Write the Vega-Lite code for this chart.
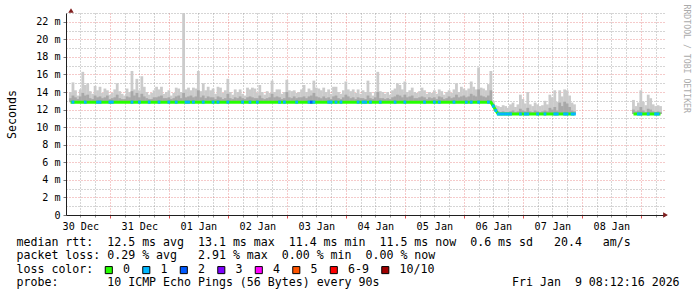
{
"$schema": "https://vega.github.io/schema/vega-lite/v6.json",
"width": 600, "height": 202,
"autosize": "none",
"padding": {"left": 66, "top": 13, "right": 31, "bottom": 82},
"background": "white",
"config": {"view": {"stroke": null}, "font": "DejaVu Sans Mono"},
"data": {"values": [
{"t":"2025-12-30T08:00","m":12.85,"a":13.3,"b":14.0},
{"t":"2025-12-30T09:00","m":12.85,"a":13.6,"b":15.1,"l":"1"},
{"t":"2025-12-30T10:00","m":12.85,"a":13.4,"b":14.2},
{"t":"2025-12-30T11:00","m":12.85,"a":13.2,"b":13.6},
{"t":"2025-12-30T12:00","m":12.85,"a":13.5,"b":14.3},
{"t":"2025-12-30T13:00","m":12.85,"a":13.9,"b":16.3},
{"t":"2025-12-30T14:00","m":12.85,"a":13.6,"b":14.8,"l":"1"},
{"t":"2025-12-30T15:00","m":12.85,"a":13.7,"b":15.0},
{"t":"2025-12-30T16:00","m":12.85,"a":13.3,"b":14.1},
{"t":"2025-12-30T17:00","m":12.85,"a":13.2,"b":13.8},
{"t":"2025-12-30T18:00","m":12.85,"a":13.6,"b":14.7},
{"t":"2025-12-30T19:00","m":12.85,"a":13.4,"b":14.2,"l":"1"},
{"t":"2025-12-30T20:00","m":12.85,"a":13.5,"b":14.6,"l":"1"},
{"t":"2025-12-30T21:00","m":12.85,"a":13.3,"b":13.9},
{"t":"2025-12-30T22:00","m":12.85,"a":13.4,"b":14.4},
{"t":"2025-12-30T23:00","m":12.85,"a":13.6,"b":14.2},
{"t":"2025-12-31T00:00","m":12.85,"a":13.2,"b":13.7,"l":"1"},
{"t":"2025-12-31T01:00","m":12.85,"a":13.3,"b":13.9,"l":"1"},
{"t":"2025-12-31T02:00","m":12.85,"a":13.4,"b":14.3},
{"t":"2025-12-31T03:00","m":12.85,"a":13.7,"b":15.0},
{"t":"2025-12-31T04:00","m":12.85,"a":13.3,"b":14.1},
{"t":"2025-12-31T05:00","m":12.85,"a":13.2,"b":13.8},
{"t":"2025-12-31T06:00","m":12.85,"a":13.2,"b":13.6},
{"t":"2025-12-31T07:00","m":12.85,"a":13.5,"b":14.4},
{"t":"2025-12-31T08:00","m":12.85,"a":13.4,"b":14.0},
{"t":"2025-12-31T09:00","m":12.85,"a":14.1,"b":16.4,"l":"1"},
{"t":"2025-12-31T10:00","m":12.85,"a":13.6,"b":14.3},
{"t":"2025-12-31T11:00","m":12.85,"a":13.9,"b":15.5},
{"t":"2025-12-31T12:00","m":12.85,"a":13.4,"b":14.2,"l":"1"},
{"t":"2025-12-31T13:00","m":12.85,"a":13.8,"b":15.8},
{"t":"2025-12-31T14:00","m":12.85,"a":13.5,"b":14.6},
{"t":"2025-12-31T15:00","m":12.85,"a":13.3,"b":14.0},
{"t":"2025-12-31T16:00","m":12.85,"a":13.2,"b":13.7,"l":"1"},
{"t":"2025-12-31T17:00","m":12.85,"a":13.2,"b":13.9},
{"t":"2025-12-31T18:00","m":12.85,"a":13.4,"b":14.2},
{"t":"2025-12-31T19:00","m":12.85,"a":13.4,"b":14.6},
{"t":"2025-12-31T20:00","m":12.85,"a":13.5,"b":14.3,"l":"1"},
{"t":"2025-12-31T21:00","m":12.85,"a":13.6,"b":14.6},
{"t":"2025-12-31T22:00","m":12.85,"a":13.3,"b":13.8},
{"t":"2025-12-31T23:00","m":12.85,"a":13.3,"b":14.0},
{"t":"2026-01-01T00:00","m":12.85,"a":13.4,"b":14.2,"l":"1"},
{"t":"2026-01-01T01:00","m":12.85,"a":13.2,"b":13.6},
{"t":"2026-01-01T02:00","m":12.85,"a":13.3,"b":13.9},
{"t":"2026-01-01T03:00","m":12.85,"a":13.5,"b":14.5,"l":"1"},
{"t":"2026-01-01T04:00","m":12.85,"a":13.6,"b":14.4},
{"t":"2026-01-01T05:00","m":12.85,"a":13.3,"b":14.0},
{"t":"2026-01-01T06:00","m":12.85,"a":13.9,"b":23.0},
{"t":"2026-01-01T07:00","m":12.85,"a":13.4,"b":14.3,"l":"1"},
{"t":"2026-01-01T08:00","m":12.85,"a":13.5,"b":14.5,"l":"1"},
{"t":"2026-01-01T09:00","m":12.85,"a":13.6,"b":14.2},
{"t":"2026-01-01T10:00","m":12.85,"a":13.4,"b":14.5,"l":"1"},
{"t":"2026-01-01T11:00","m":12.85,"a":13.5,"b":14.4},
{"t":"2026-01-01T12:00","m":12.85,"a":14.2,"b":16.4},
{"t":"2026-01-01T13:00","m":12.85,"a":13.4,"b":14.1},
{"t":"2026-01-01T14:00","m":12.85,"a":13.6,"b":15.0,"l":"1"},
{"t":"2026-01-01T15:00","m":12.85,"a":13.3,"b":14.2},
{"t":"2026-01-01T16:00","m":12.85,"a":13.5,"b":14.6},
{"t":"2026-01-01T17:00","m":12.85,"a":13.4,"b":14.2},
{"t":"2026-01-01T18:00","m":12.85,"a":13.4,"b":14.4,"l":"1"},
{"t":"2026-01-01T19:00","m":12.85,"a":13.2,"b":13.8},
{"t":"2026-01-01T20:00","m":12.85,"a":13.5,"b":14.6,"l":"1"},
{"t":"2026-01-01T21:00","m":12.85,"a":13.4,"b":14.5},
{"t":"2026-01-01T22:00","m":12.85,"a":13.2,"b":13.9},
{"t":"2026-01-01T23:00","m":12.85,"a":13.3,"b":14.2},
{"t":"2026-01-02T00:00","m":12.85,"a":13.8,"b":15.5,"l":"1"},
{"t":"2026-01-02T01:00","m":12.85,"a":13.3,"b":14.0},
{"t":"2026-01-02T02:00","m":12.85,"a":13.2,"b":13.7},
{"t":"2026-01-02T03:00","m":12.85,"a":13.4,"b":14.3},
{"t":"2026-01-02T04:00","m":12.85,"a":13.3,"b":14.0},
{"t":"2026-01-02T05:00","m":12.85,"a":13.5,"b":14.3},
{"t":"2026-01-02T06:00","m":12.85,"a":13.3,"b":13.8,"l":"1"},
{"t":"2026-01-02T07:00","m":12.85,"a":13.2,"b":13.6},
{"t":"2026-01-02T08:00","m":12.85,"a":13.4,"b":14.5},
{"t":"2026-01-02T09:00","m":12.85,"a":13.5,"b":14.3,"l":"1"},
{"t":"2026-01-02T10:00","m":12.85,"a":13.4,"b":14.5},
{"t":"2026-01-02T11:00","m":12.85,"a":13.3,"b":14.4},
{"t":"2026-01-02T12:00","m":12.85,"a":13.3,"b":13.9,"l":"1"},
{"t":"2026-01-02T13:00","m":12.85,"a":13.6,"b":14.8},
{"t":"2026-01-02T14:00","m":12.85,"a":13.3,"b":14.0},
{"t":"2026-01-02T15:00","m":12.85,"a":13.2,"b":13.7},
{"t":"2026-01-02T16:00","m":12.85,"a":13.3,"b":14.1},
{"t":"2026-01-02T17:00","m":12.85,"a":13.4,"b":13.9},
{"t":"2026-01-02T18:00","m":12.85,"a":13.8,"b":15.3},
{"t":"2026-01-02T19:00","m":12.85,"a":13.4,"b":14.0},
{"t":"2026-01-02T20:00","m":12.85,"a":13.5,"b":14.3},
{"t":"2026-01-02T21:00","m":12.85,"a":13.4,"b":14.3,"l":"1"},
{"t":"2026-01-02T22:00","m":12.85,"a":13.2,"b":13.8},
{"t":"2026-01-02T23:00","m":12.85,"a":13.3,"b":14.0,"l":"1"},
{"t":"2026-01-03T00:00","m":12.85,"a":14.0,"b":15.4},
{"t":"2026-01-03T01:00","m":12.85,"a":13.4,"b":14.2},
{"t":"2026-01-03T02:00","m":12.85,"a":13.3,"b":14.1},
{"t":"2026-01-03T03:00","m":12.85,"a":13.5,"b":14.2},
{"t":"2026-01-03T04:00","m":12.85,"a":13.3,"b":13.9,"l":"1"},
{"t":"2026-01-03T05:00","m":12.85,"a":13.4,"b":14.0},
{"t":"2026-01-03T06:00","m":12.85,"a":13.4,"b":14.3},
{"t":"2026-01-03T07:00","m":12.85,"a":13.5,"b":14.8},
{"t":"2026-01-03T08:00","m":12.85,"a":13.3,"b":14.0},
{"t":"2026-01-03T09:00","m":12.85,"a":13.5,"b":14.4,"l":"1"},
{"t":"2026-01-03T10:00","m":12.85,"a":13.6,"b":14.2,"l":"2"},
{"t":"2026-01-03T11:00","m":12.85,"a":13.9,"b":15.3,"l":"1"},
{"t":"2026-01-03T12:00","m":12.85,"a":13.5,"b":14.5},
{"t":"2026-01-03T13:00","m":12.85,"a":13.4,"b":14.4},
{"t":"2026-01-03T14:00","m":12.85,"a":13.3,"b":14.2},
{"t":"2026-01-03T15:00","m":12.85,"a":13.5,"b":14.5},
{"t":"2026-01-03T16:00","m":12.85,"a":13.3,"b":14.0},
{"t":"2026-01-03T17:00","m":12.85,"a":13.4,"b":14.3,"l":"1"},
{"t":"2026-01-03T18:00","m":12.85,"a":13.2,"b":13.8,"l":"1"},
{"t":"2026-01-03T19:00","m":12.85,"a":13.5,"b":14.6},
{"t":"2026-01-03T20:00","m":12.85,"a":13.6,"b":14.6,"l":"1"},
{"t":"2026-01-03T21:00","m":12.85,"a":13.3,"b":14.0},
{"t":"2026-01-03T22:00","m":12.85,"a":13.2,"b":13.8,"l":"1"},
{"t":"2026-01-03T23:00","m":12.85,"a":13.4,"b":14.2},
{"t":"2026-01-04T00:00","m":12.85,"a":13.7,"b":15.2},
{"t":"2026-01-04T01:00","m":12.85,"a":13.5,"b":14.3},
{"t":"2026-01-04T02:00","m":12.85,"a":13.3,"b":14.1},
{"t":"2026-01-04T03:00","m":12.85,"a":13.4,"b":14.3},
{"t":"2026-01-04T04:00","m":12.85,"a":13.2,"b":13.9},
{"t":"2026-01-04T05:00","m":12.85,"a":13.4,"b":14.3,"l":"1"},
{"t":"2026-01-04T06:00","m":12.85,"a":13.3,"b":13.8},
{"t":"2026-01-04T07:00","m":12.85,"a":13.3,"b":14.2,"l":"1"},
{"t":"2026-01-04T08:00","m":12.85,"a":13.2,"b":14.0,"l":"1"},
{"t":"2026-01-04T09:00","m":12.85,"a":13.6,"b":15.3},
{"t":"2026-01-04T10:00","m":12.85,"a":13.3,"b":14.0,"l":"1"},
{"t":"2026-01-04T11:00","m":12.85,"a":13.2,"b":13.6},
{"t":"2026-01-04T12:00","m":12.85,"a":13.4,"b":14.0},
{"t":"2026-01-04T13:00","m":12.85,"a":14.0,"b":16.3},
{"t":"2026-01-04T14:00","m":12.85,"a":13.3,"b":14.1,"l":"1"},
{"t":"2026-01-04T15:00","m":12.85,"a":13.3,"b":14.0},
{"t":"2026-01-04T16:00","m":12.85,"a":13.2,"b":13.8},
{"t":"2026-01-04T17:00","m":12.85,"a":13.3,"b":14.0},
{"t":"2026-01-04T18:00","m":12.85,"a":13.2,"b":13.7},
{"t":"2026-01-04T19:00","m":12.85,"a":13.4,"b":14.2},
{"t":"2026-01-04T20:00","m":12.85,"a":13.5,"b":14.4,"l":"1"},
{"t":"2026-01-04T21:00","m":12.85,"a":13.7,"b":15.0},
{"t":"2026-01-04T22:00","m":12.85,"a":13.6,"b":14.8},
{"t":"2026-01-04T23:00","m":12.85,"a":13.4,"b":14.3},
{"t":"2026-01-05T00:00","m":12.85,"a":13.7,"b":15.2,"l":"1"},
{"t":"2026-01-05T01:00","m":12.85,"a":13.4,"b":14.0},
{"t":"2026-01-05T02:00","m":12.85,"a":13.5,"b":14.2},
{"t":"2026-01-05T03:00","m":12.85,"a":13.6,"b":14.5},
{"t":"2026-01-05T04:00","m":12.85,"a":13.3,"b":14.0},
{"t":"2026-01-05T05:00","m":12.85,"a":13.3,"b":13.9},
{"t":"2026-01-05T06:00","m":12.85,"a":13.4,"b":14.1},
{"t":"2026-01-05T07:00","m":12.85,"a":13.5,"b":14.5},
{"t":"2026-01-05T08:00","m":12.85,"a":13.4,"b":14.2,"l":"1"},
{"t":"2026-01-05T09:00","m":12.85,"a":13.2,"b":13.8},
{"t":"2026-01-05T10:00","m":12.85,"a":13.4,"b":14.0},
{"t":"2026-01-05T11:00","m":12.85,"a":13.3,"b":13.9},
{"t":"2026-01-05T12:00","m":12.85,"a":13.4,"b":14.2,"l":"1"},
{"t":"2026-01-05T13:00","m":12.85,"a":13.2,"b":13.8},
{"t":"2026-01-05T14:00","m":12.85,"a":13.5,"b":14.3,"l":"1"},
{"t":"2026-01-05T15:00","m":12.85,"a":13.4,"b":14.1},
{"t":"2026-01-05T16:00","m":12.85,"a":13.2,"b":13.7},
{"t":"2026-01-05T17:00","m":12.85,"a":13.3,"b":14.0},
{"t":"2026-01-05T18:00","m":12.85,"a":13.5,"b":14.2},
{"t":"2026-01-05T19:00","m":12.85,"a":13.3,"b":13.9},
{"t":"2026-01-05T20:00","m":12.85,"a":13.4,"b":14.3,"l":"1"},
{"t":"2026-01-05T21:00","m":12.85,"a":13.7,"b":15.0},
{"t":"2026-01-05T22:00","m":12.85,"a":13.4,"b":14.0},
{"t":"2026-01-05T23:00","m":12.85,"a":13.5,"b":14.6},
{"t":"2026-01-06T00:00","m":12.85,"a":13.6,"b":14.4},
{"t":"2026-01-06T01:00","m":12.85,"a":13.4,"b":14.2,"l":"1"},
{"t":"2026-01-06T02:00","m":12.85,"a":13.5,"b":14.4},
{"t":"2026-01-06T03:00","m":12.85,"a":13.8,"b":15.2,"l":"1"},
{"t":"2026-01-06T04:00","m":12.85,"a":13.6,"b":14.6},
{"t":"2026-01-06T05:00","m":12.85,"a":13.5,"b":14.3},
{"t":"2026-01-06T06:00","m":12.85,"a":14.3,"b":16.8,"l":"1"},
{"t":"2026-01-06T07:00","m":12.85,"a":13.6,"b":14.5},
{"t":"2026-01-06T08:00","m":12.85,"a":13.5,"b":14.4},
{"t":"2026-01-06T09:00","m":12.85,"a":13.4,"b":14.2},
{"t":"2026-01-06T10:00","m":12.85,"a":13.6,"b":14.9,"l":"1"},
{"t":"2026-01-06T11:00","m":12.85,"a":14.2,"b":16.4},
{"t":"2026-01-06T12:00","m":12.4,"a":12.6,"b":13.0,"l":"1"},
{"t":"2026-01-06T13:00","m":11.9,"a":12.1,"b":12.5,"l":"1"},
{"t":"2026-01-06T14:00","m":11.5,"a":11.8,"b":12.4,"l":"1"},
{"t":"2026-01-06T15:00","m":11.5,"a":11.7,"b":12.3,"l":"1"},
{"t":"2026-01-06T16:00","m":11.5,"a":11.8,"b":12.5,"l":"1"},
{"t":"2026-01-06T17:00","m":11.5,"a":11.7,"b":12.4,"l":"1"},
{"t":"2026-01-06T18:00","m":11.5,"a":11.7,"b":12.2,"l":"1"},
{"t":"2026-01-06T19:00","m":11.5,"a":11.8,"b":12.6,"l":"1"},
{"t":"2026-01-06T20:00","m":11.5,"a":11.9,"b":12.8},
{"t":"2026-01-06T21:00","m":11.5,"a":11.7,"b":12.3},
{"t":"2026-01-06T22:00","m":11.5,"a":11.8,"b":12.6},
{"t":"2026-01-06T23:00","m":11.5,"a":12.1,"b":13.7,"l":"1"},
{"t":"2026-01-07T00:00","m":11.5,"a":11.9,"b":13.2},
{"t":"2026-01-07T01:00","m":11.5,"a":11.8,"b":12.7,"l":"1"},
{"t":"2026-01-07T02:00","m":11.5,"a":12.2,"b":14.0,"l":"1"},
{"t":"2026-01-07T03:00","m":11.5,"a":11.8,"b":12.6},
{"t":"2026-01-07T04:00","m":11.5,"a":11.7,"b":12.4},
{"t":"2026-01-07T05:00","m":11.5,"a":11.9,"b":12.8},
{"t":"2026-01-07T06:00","m":11.5,"a":11.8,"b":12.6,"l":"1"},
{"t":"2026-01-07T07:00","m":11.5,"a":11.7,"b":12.4},
{"t":"2026-01-07T08:00","m":11.5,"a":11.8,"b":12.5},
{"t":"2026-01-07T09:00","m":11.5,"a":11.9,"b":13.0,"l":"1"},
{"t":"2026-01-07T10:00","m":11.5,"a":11.8,"b":12.6},
{"t":"2026-01-07T11:00","m":11.5,"a":12.2,"b":13.7},
{"t":"2026-01-07T12:00","m":11.5,"a":12.0,"b":13.4},
{"t":"2026-01-07T13:00","m":11.5,"a":12.3,"b":14.2,"l":"1"},
{"t":"2026-01-07T14:00","m":11.5,"a":11.9,"b":12.9,"l":"1"},
{"t":"2026-01-07T15:00","m":11.5,"a":12.8,"b":14.2},
{"t":"2026-01-07T16:00","m":11.5,"a":12.4,"b":13.5},
{"t":"2026-01-07T17:00","m":11.5,"a":12.9,"b":14.3,"l":"1"},
{"t":"2026-01-07T18:00","m":11.5,"a":12.7,"b":14.2,"l":"1"},
{"t":"2026-01-07T19:00","m":11.5,"a":12.3,"b":13.6},
{"t":"2026-01-07T20:00","m":11.5,"a":11.9,"b":12.8,"l":"1"},
{"t":"2026-01-07T21:00","m":11.5,"a":11.8,"b":12.6,"l":"1"},
{"t":"2026-01-08T21:00","m":11.5,"a":12.0,"b":13.1},
{"t":"2026-01-08T22:00","m":11.5,"a":11.8,"b":12.4},
{"t":"2026-01-08T23:00","m":11.5,"a":11.9,"b":12.8,"l":"1"},
{"t":"2026-01-09T00:00","m":11.5,"a":12.3,"b":14.2,"l":"1"},
{"t":"2026-01-09T01:00","m":11.5,"a":11.9,"b":12.9},
{"t":"2026-01-09T02:00","m":11.5,"a":11.7,"b":12.5},
{"t":"2026-01-09T03:00","m":11.5,"a":12.1,"b":13.7,"l":"1"},
{"t":"2026-01-09T04:00","m":11.5,"a":12.0,"b":13.3},
{"t":"2026-01-09T05:00","m":11.5,"a":11.8,"b":12.6},
{"t":"2026-01-09T06:00","m":11.5,"a":11.7,"b":12.4,"l":"1"},
{"t":"2026-01-09T07:00","m":11.5,"a":11.8,"b":12.5,"l":"1"},
{"t":"2026-01-09T08:00","m":11.5,"a":11.7,"b":12.4}
]},
"resolve": {"axis": {"x": "independent", "y": "independent"}},
"layer": [
{
 "mark": {"type": "bar", "color": "#cbcbcb", "width": 2.8, "clip": true},
 "encoding": {
  "x": {"field": "t", "type": "temporal",
   "scale": {"domain": [{"year": 2025, "month": 12, "date": 30, "hours": 8, "minutes": 12}, {"year": 2026, "month": 1, "date": 9, "hours": 8, "minutes": 12}]},
   "axis": {"orient": "bottom",
    "values": [
     {"year": 2025, "month": 12, "date": 30, "hours": 12}, {"year": 2025, "month": 12, "date": 30, "hours": 18},
     {"year": 2025, "month": 12, "date": 31, "hours": 6}, {"year": 2025, "month": 12, "date": 31, "hours": 12}, {"year": 2025, "month": 12, "date": 31, "hours": 18},
     {"year": 2026, "month": 1, "date": 1, "hours": 6}, {"year": 2026, "month": 1, "date": 1, "hours": 12}, {"year": 2026, "month": 1, "date": 1, "hours": 18},
     {"year": 2026, "month": 1, "date": 2, "hours": 6}, {"year": 2026, "month": 1, "date": 2, "hours": 12}, {"year": 2026, "month": 1, "date": 2, "hours": 18},
     {"year": 2026, "month": 1, "date": 3, "hours": 6}, {"year": 2026, "month": 1, "date": 3, "hours": 12}, {"year": 2026, "month": 1, "date": 3, "hours": 18},
     {"year": 2026, "month": 1, "date": 4, "hours": 6}, {"year": 2026, "month": 1, "date": 4, "hours": 12}, {"year": 2026, "month": 1, "date": 4, "hours": 18},
     {"year": 2026, "month": 1, "date": 5, "hours": 6}, {"year": 2026, "month": 1, "date": 5, "hours": 12}, {"year": 2026, "month": 1, "date": 5, "hours": 18},
     {"year": 2026, "month": 1, "date": 6, "hours": 6}, {"year": 2026, "month": 1, "date": 6, "hours": 12}, {"year": 2026, "month": 1, "date": 6, "hours": 18},
     {"year": 2026, "month": 1, "date": 7, "hours": 6}, {"year": 2026, "month": 1, "date": 7, "hours": 12}, {"year": 2026, "month": 1, "date": 7, "hours": 18},
     {"year": 2026, "month": 1, "date": 8, "hours": 6}, {"year": 2026, "month": 1, "date": 8, "hours": 12}, {"year": 2026, "month": 1, "date": 8, "hours": 18},
     {"year": 2026, "month": 1, "date": 9, "hours": 6}],
    "grid": true, "gridColor": "#8f8f8f", "gridOpacity": 0.75, "gridDash": [1, 2], "labels": false, "ticks": true, "tickSize": 2, "tickColor": "#8f8f8f",
    "domain": false, "title": null}},
  "y": {"field": "m", "type": "quantitative", "scale": {"domain": [0, 23], "nice": false},
   "axis": {"orient": "left", "values": [1, 3, 5, 7, 9, 11, 13, 15, 17, 19, 21, 23], "grid": true, "gridColor": "#8f8f8f", "gridOpacity": 0.75, "gridDash": [1, 2], "labels": false, "ticks": false, "domain": false, "title": null}},
  "y2": {"field": "b"}
 }
},
{
 "mark": {"type": "bar", "color": "#a8a8a8", "width": 2.8, "clip": true},
 "encoding": {
  "x": {"field": "t", "type": "temporal",
   "scale": {"domain": [{"year": 2025, "month": 12, "date": 30, "hours": 8, "minutes": 12}, {"year": 2026, "month": 1, "date": 9, "hours": 8, "minutes": 12}]},
   "axis": {"orient": "bottom",
    "values": [{"year": 2025, "month": 12, "date": 31}, {"year": 2026, "month": 1, "date": 1}, {"year": 2026, "month": 1, "date": 2}, {"year": 2026, "month": 1, "date": 3}, {"year": 2026, "month": 1, "date": 4}, {"year": 2026, "month": 1, "date": 5}, {"year": 2026, "month": 1, "date": 6}, {"year": 2026, "month": 1, "date": 7}, {"year": 2026, "month": 1, "date": 8}, {"year": 2026, "month": 1, "date": 9}],
    "grid": true, "gridColor": "#de4f4f", "gridOpacity": 0.6, "gridDash": [1, 2], "labels": false, "ticks": true, "tickSize": 3, "tickColor": "#de4f4f", "domain": false, "title": null}},
  "y": {"field": "m", "type": "quantitative", "scale": {"domain": [0, 23], "nice": false},
   "axis": {"orient": "left", "values": [0, 2, 4, 6, 8, 10, 12, 14, 16, 18, 20, 22], "grid": true, "gridColor": "#de4f4f", "gridOpacity": 0.6, "gridDash": [1, 2],
    "labelExpr": "datum.value == 0 ? '0' : datum.value + ' m'", "labelFont": "DejaVu Sans Mono", "labelFontSize": 10.1, "labelColor": "black", "labelPadding": 3,
    "ticks": true, "tickSize": 3, "tickColor": "#777777", "domain": true, "domainColor": "#1f1f1f",
    "title": "Seconds", "titleAngle": 270, "titleX": -50.5, "titleY": 101, "titleAlign": "center", "titleBaseline": "alphabetic", "titleFont": "DejaVu Sans Mono", "titleFontSize": 11.6, "titleFontWeight": "normal", "titleColor": "black"}},
  "y2": {"field": "a"}
 }
},
{
 "transform": [{"filter": "time(datum.t) < time(datetime(2026, 0, 8))"}],
 "mark": {"type": "line", "color": "#26ff00", "strokeWidth": 3, "clip": true},
 "encoding": {
  "x": {"field": "t", "type": "temporal",
   "scale": {"domain": [{"year": 2025, "month": 12, "date": 30, "hours": 8, "minutes": 12}, {"year": 2026, "month": 1, "date": 9, "hours": 8, "minutes": 12}]},
   "axis": {"orient": "bottom",
    "values": [{"year": 2025, "month": 12, "date": 30, "hours": 12}, {"year": 2025, "month": 12, "date": 31, "hours": 12}, {"year": 2026, "month": 1, "date": 1, "hours": 12}, {"year": 2026, "month": 1, "date": 2, "hours": 12}, {"year": 2026, "month": 1, "date": 3, "hours": 12}, {"year": 2026, "month": 1, "date": 4, "hours": 12}, {"year": 2026, "month": 1, "date": 5, "hours": 12}, {"year": 2026, "month": 1, "date": 6, "hours": 12}, {"year": 2026, "month": 1, "date": 7, "hours": 12}, {"year": 2026, "month": 1, "date": 8, "hours": 12}],
    "format": "%d %b", "labelFont": "DejaVu Sans Mono", "labelFontSize": 10.1, "labelColor": "black", "labelPadding": 6, "labelFlush": false, "labelOverlap": false,
    "ticks": false, "grid": false, "domain": true, "domainColor": "#1f1f1f",
    "title": ["median rtt:\u00a0\u00a012.5 ms avg\u00a0\u00a013.1 ms max\u00a0\u00a011.4 ms min\u00a0\u00a011.5 ms now\u00a0\u00a00.6 ms sd\u00a0\u00a0\u00a020.4\u00a0\u00a0\u00a0am/s",
              "packet loss: 0.29 % avg\u00a0\u00a0\u00a02.91 % max\u00a0\u00a00.00 % min\u00a0\u00a00.00 % now",
              "loss color:",
              "probe:\u00a0\u00a0\u00a0\u00a0\u00a0\u00a0\u00a010 ICMP Echo Pings (56 Bytes) every 90s\u00a0\u00a0\u00a0\u00a0\u00a0\u00a0\u00a0\u00a0\u00a0\u00a0\u00a0\u00a0\u00a0\u00a0\u00a0\u00a0\u00a0\u00a0\u00a0Fri Jan\u00a0\u00a09 08:12:16 2026"],
    "titleX": -50, "titleY": 21, "titleAlign": "left", "titleBaseline": "top", "titleFont": "DejaVu Sans Mono", "titleFontSize": 11.6, "titleFontWeight": "normal", "titleColor": "black", "titleLineHeight": 13.5}},
  "y": {"field": "m", "type": "quantitative", "scale": {"domain": [0, 23], "nice": false},
   "axis": {"orient": "right", "labels": false, "ticks": false, "domain": false, "grid": false,
    "title": "RRDTOOL / TOBI OETIKER", "titleAngle": 90, "titleX": 17, "titleY": -9, "titleAlign": "left", "titleBaseline": "alphabetic", "titleFont": "DejaVu Sans Mono", "titleFontSize": 8.2, "titleFontWeight": "normal", "titleColor": "#aaaaaa"}}
 }
},
{
 "transform": [{"filter": "time(datum.t) >= time(datetime(2026, 0, 8))"}],
 "mark": {"type": "line", "color": "#26ff00", "strokeWidth": 3, "clip": true},
 "encoding": {
  "x": {"field": "t", "type": "temporal", "scale": {"domain": [{"year": 2025, "month": 12, "date": 30, "hours": 8, "minutes": 12}, {"year": 2026, "month": 1, "date": 9, "hours": 8, "minutes": 12}]}, "axis": null},
  "y": {"field": "m", "type": "quantitative", "scale": {"domain": [0, 23], "nice": false}, "axis": null}
 }
},
{
 "transform": [{"filter": "datum.l == '1' || datum.l == '2'"}],
 "mark": {"type": "tick", "orient": "horizontal", "size": 2.8, "thickness": 3, "opacity": 1, "clip": true},
 "encoding": {
  "x": {"field": "t", "type": "temporal", "scale": {"domain": [{"year": 2025, "month": 12, "date": 30, "hours": 8, "minutes": 12}, {"year": 2026, "month": 1, "date": 9, "hours": 8, "minutes": 12}]}, "axis": null},
  "y": {"field": "m", "type": "quantitative", "scale": {"domain": [0, 23], "nice": false}, "axis": null},
  "color": {"field": "l", "type": "nominal",
   "scale": {"domain": ["0", "1", "2", "3", "4", "5", "6-9", "10/10"], "range": ["#26ff00", "#00b8ff", "#0059ff", "#7e00ff", "#ff00ff", "#ff5500", "#ff0000", "#a10000"]},
   "legend": {"orient": "none", "legendX": 37, "legendY": 251, "direction": "horizontal", "title": null,
    "symbolType": "square", "symbolSize": 50, "symbolStrokeColor": "black", "symbolStrokeWidth": 1, "symbolOpacity": 1,
    "labelFont": "DejaVu Sans Mono", "labelFontSize": 11.6, "labelColor": "black", "labelOffset": 8.5, "columnPadding": 9.5, "padding": 0}}
 }
},
{
 "data": {"values": [{"k": 1}]},
 "mark": {"type": "point", "shape": "triangle-up", "filled": true, "color": "#801f1f", "opacity": 1, "size": 30, "yOffset": -2.5, "clip": false},
 "encoding": {
  "x": {"datum": {"year": 2025, "month": 12, "date": 30, "hours": 8, "minutes": 12}, "type": "temporal", "axis": null},
  "y": {"datum": 23, "type": "quantitative", "axis": null}
 }
},
{
 "data": {"values": [{"k": 1}]},
 "mark": {"type": "point", "shape": "triangle-right", "filled": true, "color": "#801f1f", "opacity": 1, "size": 30, "xOffset": 4.5, "clip": false},
 "encoding": {
  "x": {"datum": {"year": 2026, "month": 1, "date": 9, "hours": 8, "minutes": 12}, "type": "temporal", "axis": null},
  "y": {"datum": 0, "type": "quantitative", "axis": null}
 }
}
]
}
